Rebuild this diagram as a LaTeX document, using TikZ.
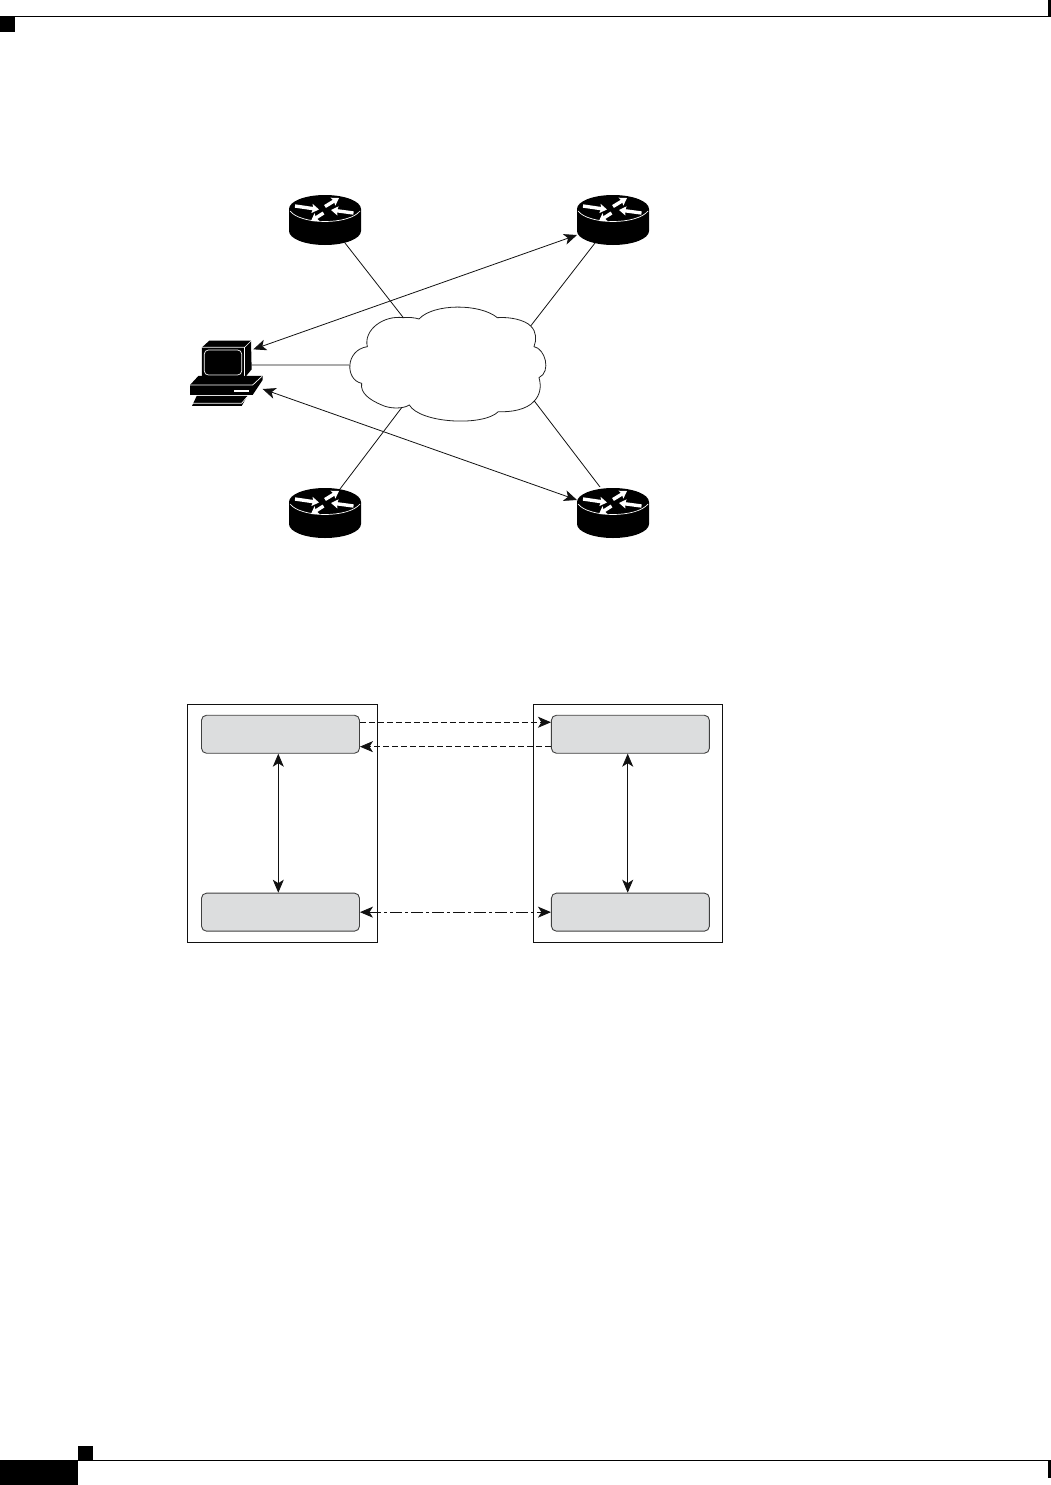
\documentclass[tikz,border=0pt]{standalone}
\usetikzlibrary{
  arrows.meta,
  positioning
}
\definecolor{ink}{HTML}{111111}
\definecolor{cloudline}{HTML}{222222}
\definecolor{panel}{HTML}{DCDDDE}

\begin{document}
\begin{tikzpicture}[
  x=1pt,
  y=-1pt,
  >={Stealth[length=13pt,width=11pt,inset=3.5pt]},
  link/.style={
    draw=ink,
    line width=0.8pt
  },
  duplex/.style={
    link,
    <->
  },
  simplex/.style={
    link,
    ->
  },
  chassis/.style={
    fill=black,
    draw=none
  },
  trim/.style={
    draw=white,
    line width=0.7pt,
    line join=round
  },
  flowmark/.style={
    draw=white,
    line width=3.4pt,
    -{Stealth[length=7pt,width=9pt,inset=1pt]}
  },
  outerbox/.style={
    draw=ink,
    line width=0.8pt,
    minimum width=190pt,
    minimum height=238pt,
    inner sep=0pt
  },
  innerbox/.style={
    draw=black!75,
    line width=0.9pt,
    rounded corners=5pt,
    fill=panel,
    minimum width=158pt,
    minimum height=38pt,
    inner sep=0pt
  },
  router/.pic={
    \fill[chassis] (-36,-11) arc[start angle=180, end angle=0, x radius=36, y radius=-14]
      -- (36,11) arc[start angle=0, end angle=-180, x radius=36, y radius=-14] -- cycle;
    \draw[trim] (-35,-9) .. controls (-24,5) and (24,5) .. (35,-9);
    \draw[flowmark] (-30,-14) -- (-6,-10.5);
    \draw[flowmark] (0,-13.5) -- (14,-22);
    \draw[flowmark] (28.5,-7) -- (6,-10);
    \draw[flowmark] (-1.5,-7) -- (-14,1);
    \coordinate (-se) at (20,23);
    \coordinate (-sw) at (-18,23);
    \coordinate (-ne) at (15,-24);
    \coordinate (-nw) at (-13,-26);
    \coordinate (-wl) at (-36,15);
    \coordinate (-wu) at (-36,-13);
  }
]
\useasboundingbox (0,0) rectangle (1051,1485);

% Page furniture
\fill[black] (0,17) rectangle (15,32);
\fill[black] (1048,0) rectangle (1051,17.5);
\draw[black, line width=1pt] (0,17) -- (1049,17);
\fill[black] (78,1446) rectangle (93,1460);
\fill[black] (0,1460) rectangle (78,1485);
\fill[black] (1048,1460) rectangle (1051,1478);
\draw[black, line width=1pt] (78,1460.5) -- (1049,1460.5);

% Routers
\pic (routerA) at (325,220) {router};
\pic (routerB) at (613,220) {router};
\pic (routerC) at (325,513) {router};
\pic (routerD) at (613,513) {router};

% Cloud
\begin{scope}[shift={(340,295)}, x=0.3333pt, y=-0.3333pt]
  \draw[cloudline, line width=0.8pt, fill=white]
    (237,72) .. controls (280,25) and (420,25) .. (472,68)
    .. controls (510,65) and (555,75) .. (572,93)
    .. controls (590,110) and (590,135) .. (582,155)
    .. controls (615,160) and (635,230) .. (597,248)
    .. controls (605,275) and (600,300) .. (583,318)
    .. controls (560,345) and (510,352) .. (475,350)
    .. controls (430,395) and (240,385) .. (208,330)
    .. controls (190,342) and (150,342) .. (125,330)
    .. controls (90,315) and (60,295) .. (65,265)
    .. controls (15,255) and (15,165) .. (82,155)
    .. controls (70,105) and (130,60) .. (190,68)
    .. controls (205,66) and (225,68) .. (237,72);
  \coordinate (cloudNW) at (190,68);
  \coordinate (cloudNE) at (572,93);
  \coordinate (cloudW) at (27,210);
  \coordinate (cloudSW) at (185,338);
  \coordinate (cloudSE) at (583,318);
\end{scope}

% Workstation
\begin{scope}[shift={(170,320)}, x=0.3333pt, y=-0.3333pt]
  \fill[chassis] (96,82) -- (118,62) -- (243,62) -- (245,148) -- (222,176) -- (96,176) -- cycle;
  \draw[trim] (96,82) -- (224,82) -- (243,63);
  \draw[trim] (224,82) -- (224,175);
  \draw[trim, rounded corners=4pt] (103,90) rectangle (215,165);
  \fill[chassis] (60,195) -- (85,168) -- (278,168) -- (278,180) -- (248,225) -- (60,225) -- cycle;
  \draw[trim] (60,195) -- (248,195) -- (276,169);
  \fill[white] (192,209) rectangle (238,215);
  \fill[chassis] (66,258) -- (80,228) -- (232,228) -- (215,258) -- cycle;
  \draw[trim] (66,250) -- (215,250) -- (231,231);
  \coordinate (stationTop) at (250,88);
  \coordinate (stationEast) at (245,135);
  \coordinate (stationLow) at (278,207);
\end{scope}

% Links into the cloud
\draw[link] (routerA-se) -- (cloudNW);
\draw[link] (routerB-sw) -- (cloudNE);
\draw[link] (routerC-ne) -- (cloudSW);
\draw[link] (routerD-nw) -- (cloudSE);
\draw[link] (stationEast) -- (cloudW);

% Sessions across the cloud
\draw[duplex] (stationTop) -- (routerB-wl);
\draw[duplex] (stationLow) -- (routerD-wu);

% Lower figure
\node[outerbox] (hostL) at (282.5,823.5) {};
\node[outerbox, minimum width=189pt] (hostR) at (628,823.5) {};
\node[innerbox] (boxTL) at (280.5,734.25) {};
\node[innerbox, below=139pt of boxTL] (boxBL) {};
\node[innerbox, right=191pt of boxTL] (boxTR) {};
\node[innerbox, right=191pt of boxBL] (boxBR) {};

\draw[simplex, dashed, dash pattern=on 6pt off 3pt] ([yshift=12pt]boxTL.east) -- ([yshift=12pt]boxTR.west);
\draw[simplex, dashed, dash pattern=on 6pt off 3pt] ([yshift=-12.4pt]boxTR.west) -- ([yshift=-12.4pt]boxTL.east);
\draw[duplex, dash pattern=on 12pt off 3pt on 3pt off 3pt] (boxBL.east) -- (boxBR.west);
\draw[duplex] ([xshift=-2.2pt]boxTL.south) -- ([xshift=-2.2pt]boxBL.north);
\draw[duplex] ([xshift=-2.7pt]boxTR.south) -- ([xshift=-2.7pt]boxBR.north);

\end{tikzpicture}
\end{document}
